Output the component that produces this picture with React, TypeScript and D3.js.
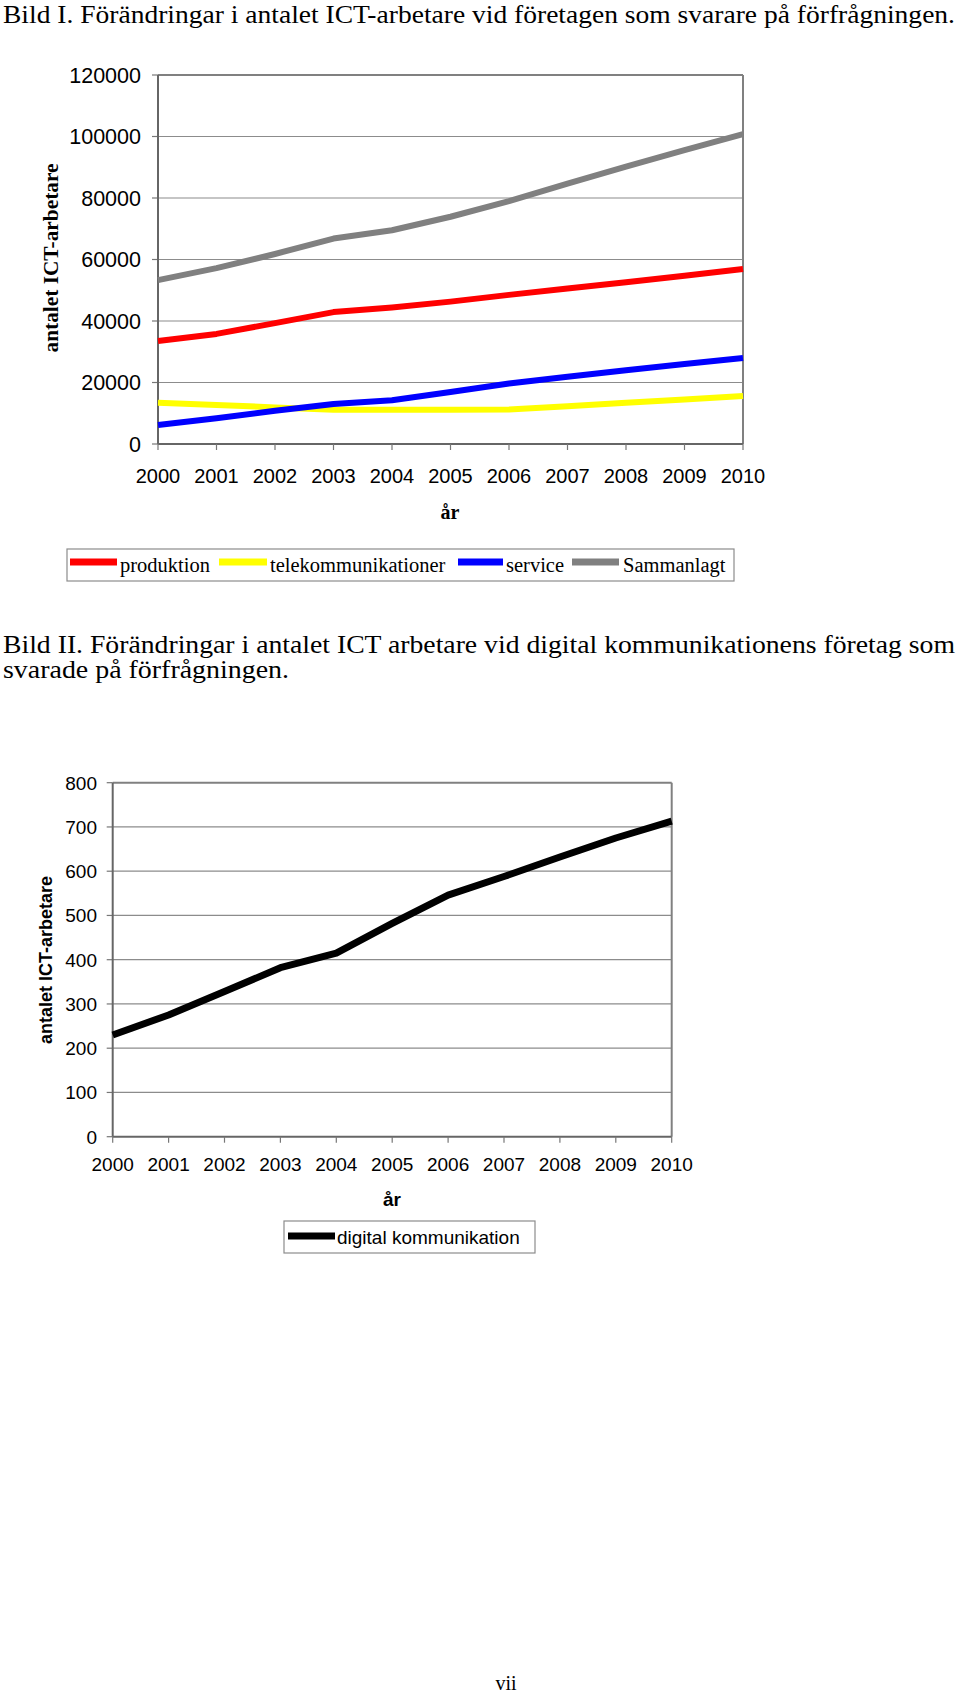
import React from 'react';
import * as d3 from 'd3';

// years shared by both charts
const years = [2000, 2001, 2002, 2003, 2004, 2005, 2006, 2007, 2008, 2009, 2010];

// Bild I series
const produktion = [33500, 35800, 39300, 42900, 44400, 46300, 48500, 50600, 52600, 54700, 56900];
const telekom = [13400, 12700, 11900, 11100, 11100, 11100, 11200, 12300, 13400, 14500, 15600];
const service = [6200, 8400, 10800, 13000, 14200, 16900, 19700, 21900, 24000, 26000, 28000];
const sammanlagt = [53300, 57200, 61800, 66800, 69500, 73900, 79000, 84700, 90200, 95600, 100800];
const ticks1 = [0, 20000, 40000, 60000, 80000, 100000, 120000];

// Bild II series
const digital = [230, 275, 328, 382, 415, 482, 546, 588, 632, 675, 713];
const ticks2 = [0, 100, 200, 300, 400, 500, 600, 700, 800];

const series1 = [
  { name: 'produktion', values: produktion, color: '#ff0000' },
  { name: 'telekommunikationer', values: telekom, color: '#ffff00' },
  { name: 'service', values: service, color: '#0000ff' },
  { name: 'Sammanlagt', values: sammanlagt, color: '#808080' },
];

const serif = '"Liberation Serif", "Times New Roman", serif';
const sans = '"Liberation Sans", Arial, sans-serif';

function Chart({ x0, x1, y0, y1, max, ticks, series, lineWidth, tickFont, tickSize, labelRight, yearY }) {
  const x = d3.scalePoint<number>().domain(years).range([x0, x1]);
  const y = d3.scaleLinear().domain([0, max]).range([y1, y0]);
  const line = d3.line<number>().x((d, i) => x(years[i])!).y(d => y(d));
  return (
    <g>
      {ticks.map(t => (
        <g key={t}>
          {t > 0 && t < max && <line x1={x0} x2={x1} y1={y(t)} y2={y(t)} stroke="#8c8c8c" strokeWidth={1.2} />}
          <line x1={x0 - 6} x2={x0} y1={y(t)} y2={y(t)} stroke="#777" strokeWidth={1.2} />
          <text x={labelRight} y={y(t)} dy="0.36em" textAnchor="end" fontFamily={sans} fontSize={tickSize}>{t}</text>
        </g>
      ))}
      <line x1={x0} x2={x1} y1={y0} y2={y0} stroke="#808080" strokeWidth={2} />
      <line x1={x1} x2={x1} y1={y0} y2={y1} stroke="#808080" strokeWidth={2} />
      <line x1={x0} x2={x0} y1={y0} y2={y1} stroke="#666" strokeWidth={2} />
      <line x1={x0} x2={x1} y1={y1} y2={y1} stroke="#666" strokeWidth={2} />
      {years.map(yr => (
        <g key={yr}>
          <line x1={x(yr)} x2={x(yr)} y1={y1} y2={y1 + 6} stroke="#777" strokeWidth={1.2} />
          <text x={x(yr)} y={yearY} dy="0.36em" textAnchor="middle" fontFamily={sans} fontSize={tickFont}>{yr}</text>
        </g>
      ))}
      {series.map(s => (
        <path key={s.name} d={line(s.values)!} fill="none" stroke={s.color} strokeWidth={lineWidth} strokeLinejoin="round" />
      ))}
    </g>
  );
}

export default function App() {
  return (
    <svg width={960} height={1693} style={{ position: 'absolute', left: 0, top: 0, background: '#fff' }}>
      <text x={3} y={23} fontFamily={serif} fontSize={25} textLength={952} lengthAdjust="spacingAndGlyphs">
        Bild I. Förändringar i antalet ICT-arbetare vid företagen som svarare på förfrågningen.
      </text>

      <Chart x0={158} x1={743} y0={75} y1={444} max={120000} ticks={ticks1} series={series1}
        lineWidth={6} tickFont={20} tickSize={21.5} labelRight={141} yearY={476} />
      <text transform="translate(51,258) rotate(-90)" textAnchor="middle" dy="0.35em" fontFamily={serif}
        fontWeight="bold" fontSize={20} textLength={189} lengthAdjust="spacingAndGlyphs">antalet ICT-arbetare</text>
      <text x={450} y={512} dy="0.35em" textAnchor="middle" fontFamily={serif} fontWeight="bold" fontSize={20}>år</text>

      <rect x={67} y={549} width={667} height={32} fill="none" stroke="#8c8c8c" strokeWidth={1.2} />
      {[
        { s: series1[0], lx: 70, lw: 47, tx: 120 },
        { s: series1[1], lx: 219, lw: 48, tx: 270 },
        { s: series1[2], lx: 458, lw: 45, tx: 506 },
        { s: series1[3], lx: 572, lw: 47, tx: 623 },
      ].map(({ s, lx, lw, tx }) => (
        <g key={s.name}>
          <line x1={lx} x2={lx + lw} y1={562} y2={562} stroke={s.color} strokeWidth={7} />
          <text x={tx} y={565} dy="0.35em" fontFamily={serif} fontSize={20.5}>{s.name}</text>
        </g>
      ))}

      <text x={3} y={653} fontFamily={serif} fontSize={25} textLength={952} lengthAdjust="spacingAndGlyphs">
        Bild II. Förändringar i antalet ICT arbetare vid digital kommunikationens företag som
      </text>
      <text x={3} y={678} fontFamily={serif} fontSize={25} textLength={286} lengthAdjust="spacingAndGlyphs">
        svarade på förfrågningen.
      </text>

      <Chart x0={112.7} x1={671.7} y0={782.7} y1={1136.7} max={800} ticks={ticks2}
        series={[{ name: 'digital kommunikation', values: digital, color: '#000' }]}
        lineWidth={7} tickFont={19} tickSize={19} labelRight={97} yearY={1164} />
      <text transform="translate(46,960) rotate(-90)" textAnchor="middle" dy="0.35em" fontFamily={sans}
        fontWeight="bold" fontSize={18}>antalet ICT-arbetare</text>
      <text x={392} y={1199} dy="0.35em" textAnchor="middle" fontFamily={sans} fontWeight="bold" fontSize={19}>år</text>

      <rect x={284} y={1221} width={251} height={32} fill="none" stroke="#8c8c8c" strokeWidth={1.2} />
      <line x1={288} x2={335} y1={1236} y2={1236} stroke="#000" strokeWidth={7} />
      <text x={337} y={1237} dy="0.35em" fontFamily={sans} fontSize={19}>digital kommunikation</text>

      <text x={506} y={1690} textAnchor="middle" fontFamily={serif} fontSize={20}>vii</text>
    </svg>
  );
}
